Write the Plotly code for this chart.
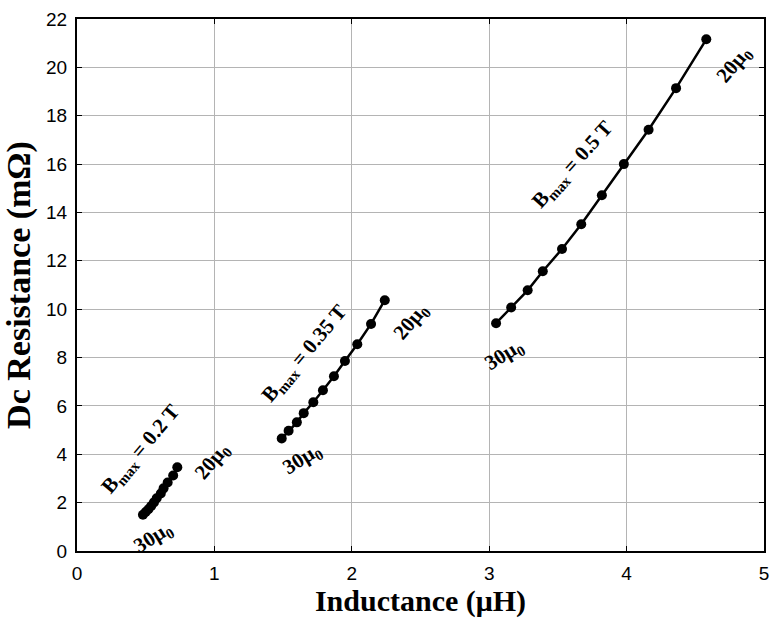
import plotly.graph_objects as go

# Series data (Inductance µH, Dc resistance mΩ), 30µ0 -> 20µ0
ind_02 = [0.48, 0.50, 0.52, 0.54, 0.56, 0.58, 0.61, 0.63, 0.66, 0.70, 0.73]
res_02 = [1.50, 1.61, 1.73, 1.86, 2.01, 2.18, 2.38, 2.59, 2.83, 3.12, 3.46]
ind_035 = [1.49, 1.54, 1.60, 1.65, 1.72, 1.79, 1.87, 1.95, 2.04, 2.14, 2.24]
res_035 = [4.65, 4.97, 5.32, 5.70, 6.15, 6.65, 7.23, 7.86, 8.55, 9.39, 10.37]
ind_05 = [3.05, 3.16, 3.28, 3.39, 3.53, 3.67, 3.82, 3.98, 4.16, 4.36, 4.58]
res_05 = [9.42, 10.07, 10.78, 11.57, 12.49, 13.51, 14.71, 16.00, 17.42, 19.14, 21.16]

# Annotation labels: (text, x, y, angle, size)
labels = [
    ("B<sub>max</sub> = 0.2 T", 0.47, 4.2, -50, 21),
    ("20μ<sub>0</sub>", 0.98, 3.7, -50, 21),
    ("30μ<sub>0</sub>", 0.55, 0.55, -32, 21),
    ("B<sub>max</sub> = 0.35 T", 1.655, 8.16, -50, 21),
    ("20μ<sub>0</sub>", 2.43, 9.47, -50, 21),
    ("30μ<sub>0</sub>", 1.64, 3.8, -32, 21),
    ("B<sub>max</sub> = 0.5 T", 3.61, 15.95, -48, 21),
    ("20μ<sub>0</sub>", 4.78, 20.1, -50, 21),
    ("30μ<sub>0</sub>", 3.11, 8.1, -32, 21),
]

fig = go.Figure()
for xs, ys in [(ind_02, res_02), (ind_035, res_035), (ind_05, res_05)]:
    fig.add_trace(go.Scatter(
        x=xs, y=ys, mode="lines+markers",
        line=dict(color="black", width=2.5),
        marker=dict(color="black", size=10),
        showlegend=False,
        cliponaxis=False,
    ))

for text, x, y, ang, sz in labels:
    fig.add_annotation(
        x=x, y=y, text=text, showarrow=False, textangle=ang,
        font=dict(family="Liberation Serif", size=sz, color="black", weight="bold"),
    )

axis_common = dict(
    showgrid=True, gridcolor="#b4b4b4", gridwidth=1,
    showline=True, linecolor="black", linewidth=2, mirror="ticks",
    ticks="inside", ticklen=5, tickcolor="black",
    zeroline=False,
    tickfont=dict(family="Liberation Sans", size=19, color="black"),
)

fig.update_xaxes(
    range=[0, 5], dtick=1, **axis_common, ticklabelstandoff=4,
    title=dict(text="Inductance (μH)", standoff=4,
               font=dict(family="Liberation Serif", size=30, color="black", weight="bold")),
)
fig.update_yaxes(
    range=[0, 22], dtick=2, **axis_common, ticklabelstandoff=4,
    title=dict(text="Dc Resistance (mΩ)", standoff=6,
               font=dict(family="Liberation Serif", size=34, color="black", weight="bold")),
)

fig.update_layout(
    width=778, height=623,
    margin=dict(l=77, r=9, t=14, b=72),
    paper_bgcolor="white", plot_bgcolor="white",
)

fig.write_html("out.html")
